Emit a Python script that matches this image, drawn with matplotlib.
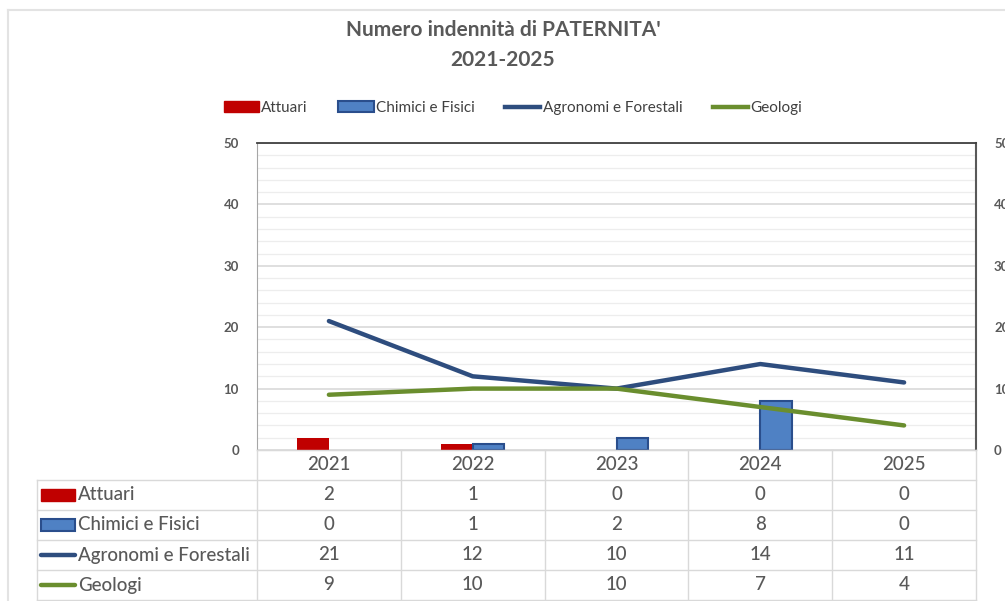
import matplotlib
matplotlib.use("Agg")
import matplotlib.pyplot as plt
from matplotlib.patches import Rectangle
from matplotlib.lines import Line2D
from matplotlib.transforms import blended_transform_factory
import numpy as np

plt.rcParams['font.family'] = ['Lato', 'DejaVu Sans']

years = ["2021", "2022", "2023", "2024", "2025"]
attuari = [2, 1, 0, 0, 0]
chimici = [0, 1, 2, 8, 0]
agronomi = [21, 12, 10, 14, 11]
geologi = [9, 10, 10, 7, 4]
series_names = ["Attuari", "Chimici e Fisici", "Agronomi e Forestali", "Geologi"]
title_lines = ["Numero indennità di PATERNITA'", "2021-2025"]

C_RED = "#C00000"
C_BLUE_FILL = "#4F81C4"
C_BLUE_EDGE = "#2A4E8C"
C_AGRO = "#2E4D7E"
C_GEO = "#6A8E2E"
TXT = "#595959"
GRID = "#D9D9D9"

W, H = 1005, 601
fig = plt.figure(figsize=(W / 100, H / 100), dpi=100)

def fx(px):
    return px / W

def fy(py):
    return 1 - py / H

L, R, T, B = 257, 976, 143, 450
ax = fig.add_axes([fx(L), fy(B), fx(R) - fx(L), fy(T) - fy(B)])
x = np.arange(len(years))
bw = 0.22
ax.bar(x - bw / 2, attuari, width=bw, color=C_RED, zorder=3)
edges = [C_BLUE_EDGE if v > 0 else 'none' for v in chimici]
ax.bar(x + bw / 2, chimici, width=bw, color=C_BLUE_FILL, edgecolor=edges,
       linewidth=1.5, zorder=3)
ax.plot(x, agronomi, color=C_AGRO, lw=3.2, zorder=4, solid_capstyle='round')
ax.plot(x, geologi, color=C_GEO, lw=3.2, zorder=4, solid_capstyle='round')

ax.set_xlim(-0.5, len(years) - 0.5)
ax.set_ylim(0, 50)
ax.set_yticks(range(0, 51, 10))
ax.set_yticks(range(0, 51, 2), minor=True)
ax.grid(axis='y', which='major', color=GRID, lw=1.2, zorder=0)
ax.grid(axis='y', which='minor', color="#EDEDED", lw=0.9, zorder=0)
ax.set_xticks([])
ax.tick_params(axis='y', which='both', length=0, labelsize=9.5, labelcolor=TXT, pad=13)
for lab in ax.get_yticklabels():
    lab.set_fontweight('bold')
ax.spines['left'].set_color("#A6A6A6")
ax.spines['top'].set_color("#404040")
ax.spines['right'].set_color("#595959")
ax.spines['bottom'].set_color(GRID)
ax.spines['top'].set_linewidth(1.3)
ax.spines['right'].set_linewidth(1.5)

ax2 = ax.twinx()
ax2.set_ylim(0, 50)
ax2.set_yticks(range(0, 51, 10))
ax2.tick_params(axis='y', length=0, labelsize=9.5, labelcolor=TXT, pad=13)
for lab in ax2.get_yticklabels():
    lab.set_fontweight('bold')
for s in ax2.spines.values():
    s.set_visible(False)

# title
fig.text(fx(503), fy(30), title_lines[0], ha='center', va='center', fontsize=15,
         fontweight='bold', color=TXT)
fig.text(fx(503), fy(60), title_lines[1], ha='center', va='center', fontsize=15,
         fontweight='bold', color=TXT)

# top legend
handles = [
    Rectangle((0, 0), 1, 1, facecolor=C_RED, edgecolor=C_RED),
    Rectangle((0, 0), 1, 1, facecolor=C_BLUE_FILL, edgecolor=C_BLUE_EDGE, lw=1.5),
    Line2D([], [], color=C_AGRO, lw=3.2),
    Line2D([], [], color=C_GEO, lw=3.2),
]
fig.legend(handles, series_names, loc='center', bbox_to_anchor=(fx(513), fy(108)),
           ncol=4, frameon=False, fontsize=11, labelcolor="#404040",
           handlelength=2.3, handleheight=0.7, handletextpad=0.15, columnspacing=2.0)

# figure border
fig.add_artist(Line2D([fx(8), 1], [fy(10), fy(10)], transform=fig.transFigure,
                      color="#E3E3E3", lw=1.5))
fig.add_artist(Line2D([fx(8), fx(8)], [fy(10), 0], transform=fig.transFigure,
                      color="#E3E3E3", lw=1.5))

# data table
bt = blended_transform_factory(ax.transData, fig.transFigure)
row_edges = [450, 480, 510, 540, 570, 600]
tl = 37
tcol = "#D9D9D9"
TFS = 13.5
TW = 'medium'
for i, ry in enumerate(row_edges):
    x0 = L if i == 0 else tl
    fig.add_artist(Line2D([fx(x0), fx(R)], [fy(ry), fy(ry)], transform=fig.transFigure,
                          color=tcol, lw=1.0))
for k in range(len(years) + 1):
    xd = k - 0.5
    fig.add_artist(Line2D([xd, xd], [fy(450), fy(600)], transform=bt, color=tcol, lw=1.0))
fig.add_artist(Line2D([fx(tl), fx(tl)], [fy(480), fy(600)], transform=fig.transFigure,
                      color=tcol, lw=1.0))
for i, yv in enumerate(years):
    fig.text(i, fy(465), yv, transform=bt, ha='center', va='center', fontsize=TFS,
             color=TXT, fontweight=TW)
all_vals = [attuari, chimici, agronomi, geologi]
for r, (name, vals) in enumerate(zip(series_names, all_vals)):
    yc = (row_edges[r + 1] + row_edges[r + 2]) / 2
    for i, v in enumerate(vals):
        fig.text(i, fy(yc), str(v), transform=bt, ha='center', va='center',
                 fontsize=TFS, color=TXT, fontweight=TW)
    fig.text(fx(78), fy(yc), name, ha='left', va='center', fontsize=TFS, color=TXT,
             fontweight=TW)
    if r == 0:
        fig.add_artist(Rectangle((fx(41), fy(yc + 6)), fx(75) - fx(41), fy(yc - 6) - fy(yc + 6),
                                 transform=fig.transFigure, facecolor=C_RED, edgecolor=C_RED))
    elif r == 1:
        fig.add_artist(Rectangle((fx(41), fy(yc + 6)), fx(75) - fx(41), fy(yc - 6) - fy(yc + 6),
                                 transform=fig.transFigure, facecolor=C_BLUE_FILL,
                                 edgecolor=C_BLUE_EDGE, lw=1.5))
    else:
        col = C_AGRO if r == 2 else C_GEO
        fig.add_artist(Line2D([fx(41), fx(75)], [fy(yc), fy(yc)], transform=fig.transFigure,
                              color=col, lw=3.2, solid_capstyle='round'))

fig.savefig("out.png", dpi=100, facecolor="white")
